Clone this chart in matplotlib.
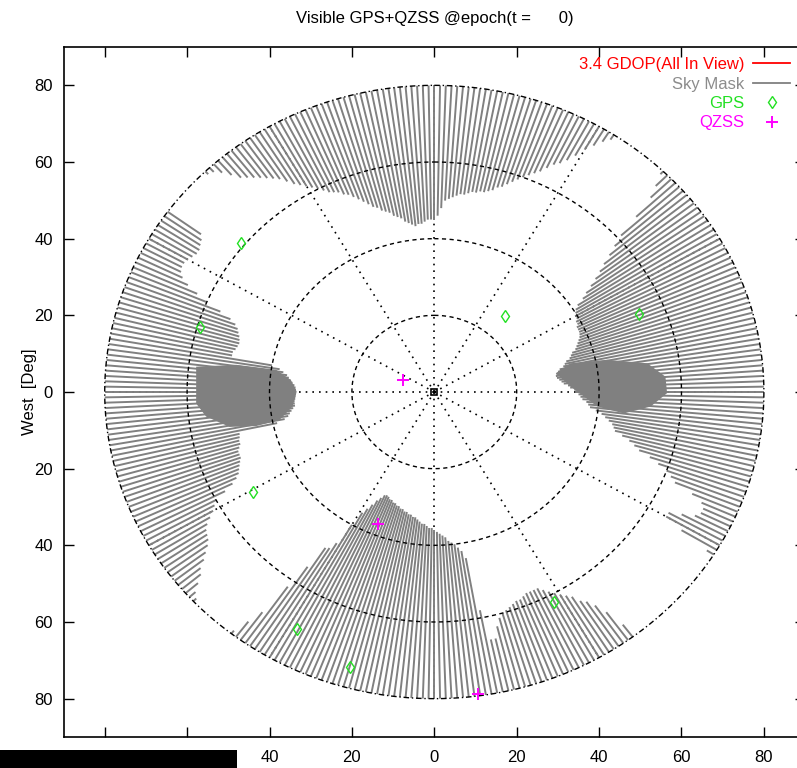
import numpy as np
import matplotlib
matplotlib.use("Agg")
import matplotlib.pyplot as plt
from matplotlib.collections import LineCollection
from matplotlib.lines import Line2D
from matplotlib.patches import Polygon, Rectangle

plt.rcParams['font.family'] = ['Liberation Sans', 'DejaVu Sans']
plt.rcParams['font.size'] = 12

# ----------------------------------------------------------------
# DATA
# ----------------------------------------------------------------

TITLE = "Visible GPS+QZSS @epoch(t =      0)"
TICKS = [-80, -60, -40, -20, 0, 20, 40, 60, 80]
RINGS = [20, 40, 60]
HORIZON_R = 80          # outermost ring, sky mask strokes end here
SPOKES = list(range(0, 360, 30))

# satellite positions on the sky plot (deg)
gps_x = [-47.0, -56.9, 17.1, 49.6, -44.1, -33.4, -20.5, 29.0]
gps_y = [38.9, 17.0, 19.8, 20.3, -26.1, -61.8, -71.7, -54.8]
qzss_x = [-7.7, -13.6, 10.5]
qzss_y = [3.1, -34.4, -78.8]

# sky mask edge, radius from zenith per 1 deg azimuth (80 = open sky)
mask_az = np.arange(360)
mask_r = np.array([
    45, 46, 48, 50, 50.5, 51, 51.5, 52, 52, 52.5,
    53, 53, 53.5, 53.5, 54, 54.5, 55.5, 56, 57, 58,
    59, 60, 61, 62, 63, 64.5, 66, 67, 68.5, 70.5,
    73, 75, 77, 78.5, 80, 80, 80, 80, 80, 80,
    80, 80, 80, 80, 79, 76, 73, 67, 61, 58,
    55.5, 53, 51, 49, 47, 45, 43.5, 41.5, 40.5, 40,
    39.5, 39.5, 39, 39, 38.5, 38.5, 38.5, 38.3, 38, 37.5,
    37, 36.5, 36, 35, 34.5, 34, 33, 32.5, 32, 31,
    30.5, 30, 29.8, 30, 30.5, 31, 31.5, 32.5, 33, 34,
    34.5, 35, 35.5, 36, 37, 37.5, 38, 39.5, 41, 42,
    43, 44, 44.5, 45, 47, 49, 50.5, 52, 55, 57.5,
    60, 61.5, 63, 68, 71, 72, 72, 71, 68, 65,
    65, 70, 78, 80, 80, 80, 80, 80, 80, 80,
    80, 80, 80, 80, 80, 80, 80, 80, 80, 80,
    80, 80, 80, 76, 71, 68, 66, 65, 63, 62,
    61, 60, 59, 58, 57, 57, 57, 57, 57.5, 58,
    58, 58.5, 59, 59.5, 60, 61, 63, 66, 66, 58,
    44, 42, 41, 40, 39.5, 39, 38, 37.5, 37, 36.5,
    36, 35.5, 35.5, 35, 34.5, 34.5, 34, 33.5, 33, 33,
    32.5, 32.5, 32, 32, 31.5, 31.5, 31, 31, 30.5, 30.5,
    30, 30, 29.5, 29.3, 29.5, 30.5, 31.5, 33, 34.5, 36,
    40, 46, 48, 48.5, 55, 62, 71, 75, 79, 80,
    80, 80, 80, 80, 80, 80, 80, 79, 78, 76,
    74, 73, 71, 69.5, 68, 67, 66.5, 66, 65, 63.5,
    62, 61, 60, 57, 54.5, 53, 52, 51.5, 51, 50.5,
    50, 50, 50, 49.5, 49, 49, 48.7, 48.5, 39, 37,
    36, 35.5, 35, 34.5, 34, 34, 34, 33.8, 33.7, 33.6,
    33.6, 33.6, 33.7, 34, 34.5, 35, 35.5, 36, 37, 38,
    40, 50, 50, 49.5, 49.2, 49, 49.2, 49.5, 50, 50.5,
    51.4, 53, 56, 60, 63, 66, 68, 69, 69.4, 69.4,
    69, 68.5, 68, 68, 68.5, 69, 70, 80, 80, 80,
    80, 80, 80, 80, 80, 80, 79, 78.5, 77, 75,
    73, 72, 71, 70, 69, 68, 67, 65.5, 64, 63,
    62, 61, 60, 59, 58, 57.5, 57, 56, 55.5, 54.5,
    53.5, 52.5, 51.5, 50.5, 50, 49, 48.5, 48, 47, 46.5,
    46, 45, 44.5, 44, 43.5, 44, 44, 44.5, 45, 45,
])

# densely masked blocks west and east of the zenith
west_block_x = [-57.8, -48.1, -38.4, -34.8, -33.4, -34.4, -37.6, -43.3, -49.7, -55.4, -57.8]
west_block_y = [6.6, 7.1, 5.8, 3.1, 0.1, -3.8, -7.3, -8.9, -9.1, -6.4, -3.0]
east_block_x = [29.5, 33.1, 42.0, 51.7, 56.1, 56.5, 52.5, 46.0, 39.6, 33.1]
east_block_y = [4.9, 7.5, 8.4, 7.5, 4.0, -0.3, -3.8, -5.6, -3.8, 1.4]

MASK_GREY = "#808080"
GPS_GREEN = "#22e022"
QZSS_MAGENTA = "#ff00ff"

# ----------------------------------------------------------------
# FIGURE
# ----------------------------------------------------------------

fig = plt.figure(figsize=(7.97, 7.68), dpi=100)
ax = fig.add_axes([63.5 / 797, 31 / 768, 741.6 / 797, 690 / 768])
ax.set_xlim(-90, 90)
ax.set_ylim(-90, 90)

# spokes sit underneath the mask
for s in SPOKES:
    a = np.radians(s)
    ax.plot([0, HORIZON_R * np.sin(a)], [0, HORIZON_R * np.cos(a)],
            color="black", lw=1.2, ls=(0, (1, 3)), zorder=1)

# sky mask: one radial stroke per azimuth, from mask edge out to the horizon ring
az = np.radians(mask_az)
keep = mask_r < HORIZON_R
segs = [[(r * np.sin(a), r * np.cos(a)),
         (HORIZON_R * np.sin(a), HORIZON_R * np.cos(a))]
        for a, r in zip(az[keep], mask_r[keep])]
ax.add_collection(LineCollection(segs, colors=MASK_GREY, linewidths=1.4, zorder=2))
for bx, by in [(west_block_x, west_block_y), (east_block_x, east_block_y)]:
    ax.add_patch(Polygon(np.column_stack([bx, by]), closed=True,
                         fc=MASK_GREY, ec="none", zorder=2))

# elevation rings drawn over the mask
t = np.linspace(0, 2 * np.pi, 721)
for r in RINGS:
    ax.plot(r * np.sin(t), r * np.cos(t), color="black", lw=1.0,
            ls=(0, (3, 2.5)), zorder=3)
ax.plot(HORIZON_R * np.sin(t), HORIZON_R * np.cos(t), color="black", lw=1.0,
        ls=(0, (4, 2, 1, 2)), zorder=3)
ax.plot([0], [0], marker="s", ms=4, mfc="none", mec="black", mew=1.2, zorder=3)

# satellites
ax.plot(gps_x, gps_y, ls="none", marker="d", ms=6, mfc="none",
        mec=GPS_GREEN, mew=1.0, zorder=4)
ax.plot(qzss_x, qzss_y, ls="none", marker="+", ms=8,
        mec=QZSS_MAGENTA, mew=1.4, zorder=4)

# axes styling
ax.set_xticks(TICKS)
ax.set_xticklabels([str(abs(v)) for v in TICKS])
ax.set_yticks(TICKS)
ax.set_yticklabels([str(abs(v)) for v in TICKS])
ax.tick_params(direction="in", length=7, width=1, top=True, right=True)
ax.tick_params(axis="x", pad=9)
ax.tick_params(axis="y", pad=7.5)
for sp in ax.spines.values():
    sp.set_linewidth(1.2)

# legend
handles = [
    Line2D([], [], color="#ff0000", lw=1.3),
    Line2D([], [], color=MASK_GREY, lw=1.3),
    Line2D([], [], ls="none", marker="d", ms=6, mfc="none", mec=GPS_GREEN, mew=1.0),
    Line2D([], [], ls="none", marker="+", ms=8, mec=QZSS_MAGENTA, mew=1.4),
]
labels = ["3.4 GDOP(All In View)", "Sky Mask", "GPS", "QZSS"]
leg = fig.legend(handles, labels, loc="upper right",
                 bbox_to_anchor=(790 / 797, 1 - 57 / 768),
                 frameon=False, markerfirst=False, borderpad=0, borderaxespad=0,
                 handlelength=2.2, handletextpad=0.55, labelspacing=0.27)
for txt, c in zip(leg.get_texts(), ["#ff0000", "#8c8c8c", GPS_GREEN, QZSS_MAGENTA]):
    txt.set_color(c)

fig.text(434.5 / 797, 1 - 18 / 768, TITLE, ha="center", va="center")
fig.text(30 / 797, 1 - 392 / 768, "West  [Deg]", rotation=90,
         ha="center", va="center")

# blacked-out strip at the lower left
fig.patches.append(Rectangle((0, 0), 237 / 797, 18 / 768, transform=fig.transFigure,
                             facecolor="black", edgecolor="none", zorder=10))

fig.savefig("out.png", dpi=100)
